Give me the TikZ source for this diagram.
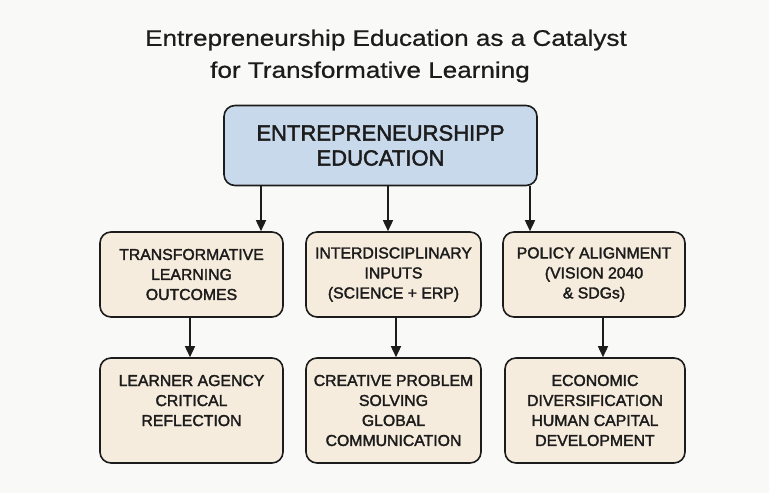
\documentclass[tikz,border=0pt]{standalone}
\usepackage{fontspec}
\setmainfont{Liberation Sans}
\newfontfamily\titlefont[FakeStretch=1.16,FakeBold=0.7]{Liberation Sans}
\newfontfamily\medfont[FakeBold=2]{Liberation Sans}
\usetikzlibrary{arrows.meta}
\definecolor{bg}{HTML}{F9F9F7}
\definecolor{topfill}{HTML}{C8D9EB}
\definecolor{boxfill}{HTML}{F6ECDD}
\definecolor{ink}{HTML}{1C1C1C}
\tikzset{
  box/.style={draw=ink, line width=1.6pt, rounded corners=11pt, fill=boxfill,
    align=center, inner sep=0pt, font=\medfont\fontsize{15.8}{20}\selectfont, text=ink},
  topbox/.style={box, fill=topfill, font=\medfont\fontsize{22}{25}\selectfont},
  titletext/.style={font=\titlefont\fontsize{22.5}{32}\selectfont, text=ink},
  conn/.style={draw=ink, line width=1.5pt, -{Triangle[length=11pt,width=10pt]}}
}
\begin{document}
\begin{tikzpicture}[x=1pt,y=-1pt]
\fill[bg] (0,0) rectangle (769,493);
\useasboundingbox (0,0) rectangle (769,493);
\node[titletext] (title1) at (386,40) {Entrepreneurship Education as a Catalyst};
\node[titletext] (title2) at (370,72) {for Transformative Learning};
\node[topbox, minimum width=313pt, minimum height=80pt] (top) at (380.5,145.5)
  {ENTREPRENEURSHIPP\\EDUCATION};
\node[box, minimum width=183pt, minimum height=85pt] (m1) at (191.5,274.5)
  {TRANSFORMATIVE\\LEARNING\\OUTCOMES};
\node[box, minimum width=175pt, minimum height=85pt] (m2) at (393.5,274.5)
  {INTERDISCIPLINARY\\INPUTS\\(SCIENCE + ERP)};
\node[box, minimum width=182pt, minimum height=85pt] (m3) at (594,274.5)
  {POLICY ALIGNMENT\\(VISION 2040\\\& SDGs)};
\node[box, minimum width=183pt, minimum height=105pt] (b1) at (191.5,410.5)
  {LEARNER AGENCY\\CRITICAL\\REFLECTION\\\mbox{}};
\node[box, minimum width=175pt, minimum height=105pt] (b2) at (393.5,410.5)
  {CREATIVE PROBLEM\\SOLVING\\GLOBAL\\COMMUNICATION};
\node[box, minimum width=180pt, minimum height=105pt] (b3) at (595,410.5)
  {ECONOMIC\\DIVERSIFICATION\\HUMAN CAPITAL\\DEVELOPMENT};
\draw[conn] (top.south -| 261,0) -- (m1.north -| 261,0);
\draw[conn] (top.south -| 388,0) -- (m2.north -| 388,0);
\draw[conn] (top.south -| 530,0) -- (m3.north -| 530,0);
\draw[conn] (m1.south -| 190,0) -- (b1.north -| 190,0);
\draw[conn] (m2.south -| 396,0) -- (b2.north -| 396,0);
\draw[conn] (m3.south -| 603,0) -- (b3.north -| 603,0);
\end{tikzpicture}
\end{document}
